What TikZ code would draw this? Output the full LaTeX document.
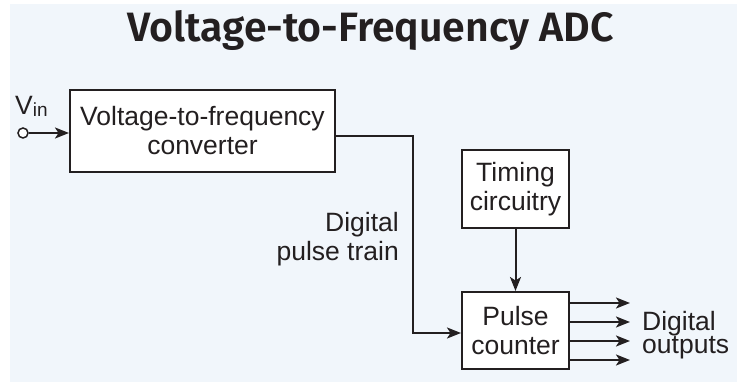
\documentclass[tikz,border=0pt]{standalone}
\usepackage{fontspec}
\setmainfont{Liberation Sans}
\newfontfamily\titlefont{Fira Sans SemiBold}
\usetikzlibrary{arrows.meta}
\definecolor{bgblue}{HTML}{F1F6FB}
\definecolor{ink}{HTML}{231F20}
\begin{document}
\begin{tikzpicture}[x=1pt,y=-1pt,
  every node/.style={text=ink, font=\fontsize{26.5}{29}\selectfont},
  blockbox/.style={draw=ink, line width=2pt, fill=white, align=center, inner sep=0pt},
  wire/.style={draw=ink, line width=2pt},
  arr/.style={wire, -{Stealth[length=14pt,width=11pt,inset=3.5pt]}}]
\useasboundingbox (0,0) rectangle (737,382);
\fill[white] (0,0) rectangle (737,382);
\fill[bgblue] (10,4) rectangle (737,382);
% title
\node[anchor=base] (title) at (370.5,42) {\resizebox{487pt}{\height}{\titlefont\fontsize{41}{44}\selectfont Voltage-to-Frequency ADC}};
% blocks
\node[blockbox, minimum width=265pt, minimum height=82pt] (vtf) at (202.5,131) {Voltage-to-frequency\\converter};
\node[blockbox, minimum width=107pt, minimum height=78pt] (tim) at (515.5,189) {Timing\\circuitry};
\node[blockbox, minimum width=107pt, minimum height=77pt] (pc) at (515.5,330.5) {Pulse\\counter};
% input
\node[circle, draw=ink, line width=1.5pt, fill=white, minimum size=10pt, inner sep=0pt] (vin) at (23,133) {};
\node[anchor=base west, inner sep=0pt] (vinlbl) at (15,115) {V\raisebox{-2pt}{\fontsize{19}{19}\selectfont in}};
\draw[arr] (vin) -- (vin -| vtf.west);
% pulse train
\coordinate (c1) at (413,136);
\coordinate (c2) at (413,333);
\draw[arr] (vtf.east |- c1) -- (c1) -- (c2) -- (pc.west |- c2);
\node[anchor=base east, align=right, inner sep=0pt] (ptl) at (399,261) {Digital\\pulse train};
% timing to counter
\draw[arr] (tim.south) -- (pc.north);
% outputs
\coordinate (o1) at (630,303);
\coordinate (o2) at (630,322);
\coordinate (o3) at (630,341);
\coordinate (o4) at (630,360);
\foreach \o in {o1,o2,o3,o4} \draw[arr] (pc.east |- \o) -- (\o);
\node[anchor=base west, align=left, inner sep=0pt, font=\fontsize{26.5}{24}\selectfont] (dol) at (642,354) {Digital\\outputs};
\end{tikzpicture}
\end{document}
